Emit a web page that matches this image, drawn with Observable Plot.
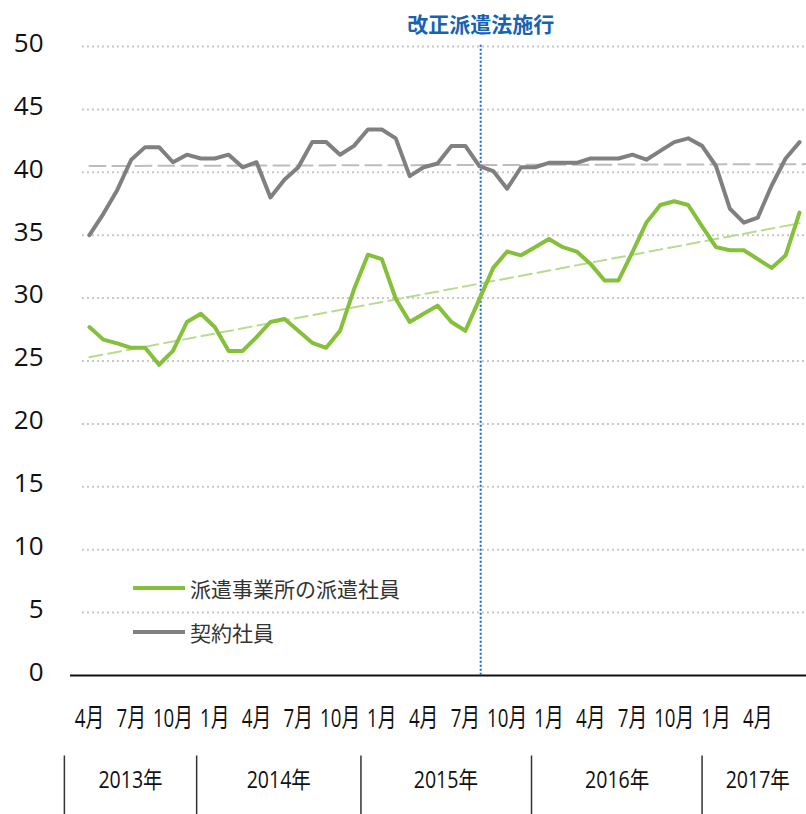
<!DOCTYPE html>
<html><head><meta charset="utf-8">
<script src="https://cdn.jsdelivr.net/npm/d3@7"></script>
<script src="https://cdn.jsdelivr.net/npm/@observablehq/plot@0.6"></script>
<style>
body{margin:0;background:#fff;}
#wrap{position:relative;width:806px;height:814px;overflow:hidden;background:#fff;}
#legend{position:absolute;left:133px;top:0;font-family:"Noto Sans CJK JP",sans-serif;font-size:21px;color:#333;}
.item{position:absolute;left:0;display:flex;align-items:center;white-space:nowrap;height:30px;}
.sw{width:52px;height:4px;margin-right:5px;}
</style></head><body><div id="wrap"></div>
<script>
// Months (category axis), April 2013 – July 2017
const months = [
  "2013-04","2013-05","2013-06","2013-07","2013-08","2013-09","2013-10","2013-11","2013-12",
  "2014-01","2014-02","2014-03","2014-04","2014-05","2014-06","2014-07","2014-08","2014-09","2014-10","2014-11","2014-12",
  "2015-01","2015-02","2015-03","2015-04","2015-05","2015-06","2015-07","2015-08","2015-09","2015-10","2015-11","2015-12",
  "2016-01","2016-02","2016-03","2016-04","2016-05","2016-06","2016-07","2016-08","2016-09","2016-10","2016-11","2016-12",
  "2017-01","2017-02","2017-03","2017-04","2017-05","2017-06","2017-07"
];
const seriesNames = ["派遣事業所の派遣社員", "契約社員"];
const seriesColors = ["#84c03a", "#808080"];
const dispatchValues = [27.7,26.7,26.4,26.05,26.05,24.7,25.8,28.1,28.75,27.7,
  25.8,25.8,26.9,28.1,28.35,27.4,26.45,26.05,27.4,30.7,
  33.45,33.1,29.95,28.1,28.75,29.4,28.1,27.4,29.9,32.4,
  33.7,33.4,34.05,34.7,34.05,33.7,32.7,31.4,31.4,33.65,
  36.0,37.4,37.7,37.4,35.7,34.05,33.8,33.8,33.1,32.4,
  33.4,36.8];
const contractValues = [35.0,36.7,38.6,41.0,42.0,42.0,40.8,41.4,41.1,41.1,
  41.4,40.4,40.8,38.0,39.4,40.4,42.4,42.4,41.4,42.1,
  43.4,43.4,42.7,39.7,40.4,40.7,42.1,42.1,40.5,40.1,
  38.7,40.4,40.4,40.75,40.75,40.75,41.1,41.1,41.1,41.4,
  41.0,41.7,42.4,42.7,42.1,40.5,37.1,36.0,36.4,38.95,
  41.1,42.4];
// dashed reference lines (trend of dispatch; level of contract)
const dispatchTrend = [{i: 0, v: 25.3}, {i: 51, v: 35.95}];
const contractLevel = [{i: 0, v: 40.5}, {i: 51.5, v: 40.65}];
// tick labels
const yTicks = [0,5,10,15,20,25,30,35,40,45,50];
const monthTickIndex = [0,3,6,9,12,15,18,21,24,27,30,33,36,39,42,45,48];
const monthTickLabels = ["4月","7月","10月","1月","4月","7月","10月","1月","4月","7月","10月","1月","4月","7月","10月","1月","4月"];
const yearLabels = ["2013年","2014年","2015年","2016年","2017年"];
const yearCenters = [2.95, 13.6, 25.6, 37.9, 48.0];
const yearSeparators = [-1.8, 7.7, 19.5, 31.75, 44.0];
const lawEvent = [{i: 28.1, label: "改正派遣法施行"}];

const dispatch = dispatchValues.map((v, i) => ({i, v, m: months[i]}));
const contract = contractValues.map((v, i) => ({i, v, m: months[i]}));
const ticksX = monthTickIndex.map((i, k) => ({i, label: monthTickLabels[k]}));
const years = yearLabels.map((label, k) => ({i: yearCenters[k], label}));

const font = '"Open Sans","Noto Sans CJK JP",sans-serif';
const chart = Plot.plot({
  width: 806, height: 814,
  marginLeft: 70, marginRight: 0, marginTop: 46, marginBottom: 139,
  x: {type: "linear", domain: [-1.36, 51.5], axis: null},
  y: {domain: [0, 50], axis: null},
  style: {fontFamily: font, background: "white", overflow: "visible", color: "#111"},
  marks: [
    Plot.ruleY(yTicks.filter(d => d > 0), {y: d => d, x1: -0.5, x2: 51.5, stroke: "#c8c8c8", strokeWidth: 2, strokeDasharray: "2,3"}),
    Plot.text(yTicks, {y: d => d, text: d => String(d), frameAnchor: "left", textAnchor: "end", dx: -27, dy: -3, fontSize: 26, fill: "#111"}),
    Plot.ruleY([0], {stroke: "#111", strokeWidth: 2}),
    Plot.ruleX(lawEvent, {x: "i", y1: 50.1, y2: 0, stroke: "#1a6bc1", strokeWidth: 2, strokeDasharray: "2,2"}),
    Plot.text(lawEvent, {x: "i", text: "label", frameAnchor: "top", dy: -29, fontSize: 21, fontWeight: "bold", fill: "#1763b3", fontFamily: '"Noto Sans CJK JP",sans-serif'}),
    Plot.line(contractLevel, {x: "i", y: "v", stroke: "#bdbdbd", strokeWidth: 2, strokeDasharray: "16,7"}),
    Plot.line(dispatchTrend, {x: "i", y: "v", stroke: "#b7dc8c", strokeWidth: 2, strokeDasharray: "13,6"}),
    Plot.line(contract, {x: "i", y: "v", stroke: seriesColors[1], strokeWidth: 4, strokeLinejoin: "round"}),
    Plot.line(dispatch, {x: "i", y: "v", stroke: seriesColors[0], strokeWidth: 4, strokeLinejoin: "round"}),
    Plot.text(ticksX, {x: "i", text: "label", frameAnchor: "bottom", dy: 51, fontSize: 26, fill: "#111"}),
    Plot.ruleX(yearSeparators, {x: d => d, y1: -6.4, y2: -11.3, stroke: "#333", strokeWidth: 1.5}),
    Plot.text(years, {x: "i", text: "label", frameAnchor: "bottom", dy: 112, fontSize: 23, fill: "#111"})
  ]
});
// condensed appearance of the category labels (horizontal squeeze around each label's anchor)
function squeeze(sel, s) {
  sel.each(function() {
    const el = this;
    const t = el.getAttribute("transform");
    if (t && t.includes("translate")) {
      el.setAttribute("transform", t + ` scale(${s},1)`);
    } else {
      const x = +(el.getAttribute("x") || 0), y = +(el.getAttribute("y") || 0);
      el.removeAttribute("x"); el.removeAttribute("y");
      el.setAttribute("transform", `${t || ""} translate(${x},${y}) scale(${s},1)`);
    }
  });
}
const allText = d3.select(chart).selectAll("text");
squeeze(allText.filter(function() { return /^\d+月$/.test(this.textContent); }), 0.72);
squeeze(allText.filter(function() { return /^\d{4}年$/.test(this.textContent); }), 0.85);
const wrap = document.getElementById("wrap");
wrap.appendChild(chart);
const legend = document.createElement("div");
legend.id = "legend";
const legendTops = [573, 617];
seriesNames.forEach((name, k) => {
  const item = document.createElement("div");
  item.className = "item";
  item.style.top = legendTops[k] + "px";
  const sw = document.createElement("div");
  sw.className = "sw";
  sw.style.background = seriesColors[k];
  const t = document.createElement("span");
  t.textContent = name;
  item.appendChild(sw); item.appendChild(t);
  legend.appendChild(item);
});
wrap.appendChild(legend);
</script></body></html>
